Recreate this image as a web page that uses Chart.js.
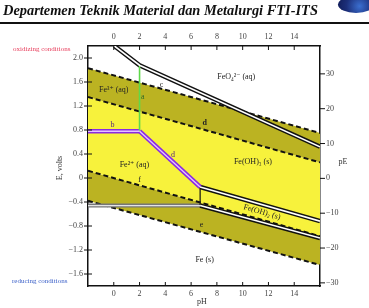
<!DOCTYPE html>
<html>
<head>
<meta charset="utf-8">
<script src="https://cdn.jsdelivr.net/npm/chart.js@4.4.0/dist/chart.umd.min.js"></script>
<style>
  html, body { margin: 0; padding: 0; background: #fff; }
  #wrap { position: relative; width: 369px; height: 308px; overflow: hidden; }
  #head { position: absolute; left: 3px; top: 2px; font: italic bold 14.4px "Liberation Serif", serif; white-space: nowrap; color: #111; }
  #rule { position: absolute; left: 0; top: 22px; width: 369px; height: 2px; background: #111; }
  #logo { position: absolute; left: 338px; top: -4px; width: 36px; height: 17px; border-radius: 50%;
          background: radial-gradient(circle at 60% 60%, #3b6fd0 0%, #1c2f7a 55%, #101b55 100%); }
  canvas { position: absolute; left: 0; top: 0; }
</style>
</head>
<body>
<div id="wrap">
  <canvas id="pourbaix" width="369" height="308"></canvas>
  <div id="head">Departemen Teknik Material dan Metalurgi FTI-ITS</div>
  <div id="rule"></div>
  <div id="logo"></div>
</div>
<script>
// water stability bands (E in volts at pH -2 and 16)
const bandPh = [-2, 16];
const upperBandTop = [1.83, 0.75];
const o2Line = [1.35, 0.26];
const h2Line = [0.12, -0.97];
const lowerBandBottom = [-0.38, -1.45];

// phase boundaries
const cPh = [0.05, 2, 16],  cE = [2.2, 1.88, 0.52];   // FeO4 2- / Fe3+, Fe(OH)3
const aPh = [2, 2],         aE = [1.88, 0.78];        // Fe3+ / Fe(OH)3
const bPh = [-2, 2],        bE = [0.78, 0.78];        // Fe3+ / Fe2+
const dPh = [2, 6.7],       dE = [0.78, -0.15];       // Fe(OH)3 / Fe2+
const ohPh = [6.7, 16];
const oh3E = [-0.15, -0.72];                          // Fe(OH)3 / Fe(OH)2
const oh2E = [-0.46, -1.0];                           // Fe(OH)2 / Fe
const stepPh = [6.7, 6.7],  stepE = [-0.15, -0.46];   // Fe2+ / Fe(OH)2
const fePh = [-2, 6.7],     feE = [-0.46, -0.46];     // Fe2+ / Fe

const phTicks = [0, 2, 4, 6, 8, 10, 12, 14];
const eTicks = [-1.6, -1.2, -0.8, -0.4, 0, 0.4, 0.8, 1.2, 1.6, 2.0];
const peTicks = [-30, -20, -10, 0, 10, 20, 30];

const regionLabels = [
  { t: 'FeO₄²⁻ (aq)', x: 9.5, y: 1.68 },
  { t: 'Fe³⁺ (aq)', x: 0.0, y: 1.47 },
  { t: 'c', x: 3.7, y: 1.55 },
  { t: 'a', x: 2.25, y: 1.35, c: '#2f6a2a' },
  { t: 'b', x: -0.1, y: 0.88, c: '#5a2a7a' },
  { t: 'd', x: 7.05, y: 0.92, bold: true },
  { t: 'd', x: 4.6, y: 0.38, c: '#5a2a7a' },
  { t: 'Fe²⁺ (aq)', x: 1.6, y: 0.22 },
  { t: 'f', x: 2.0, y: -0.03 },
  { t: 'Fe(OH)₃ (s)', x: 10.8, y: 0.27 },
  { t: 'Fe(OH)₂ (s)', x: 11.5, y: -0.57, rot: 0.28 },
  { t: 'e', x: 6.8, y: -0.78 },
  { t: 'Fe (s)', x: 7.05, y: -1.37 }
];

const YELLOW = '#f7f23c';
const OLIVE = '#bbb322';
const SERIF = '"Liberation Serif", "DejaVu Serif", serif';

const pts = (xs, ys) => xs.map((x, i) => ({ x: x, y: ys[i] }));

function band(xs, ys, fill, color) {
  return {
    data: pts(xs, ys), fill: fill, backgroundColor: color,
    borderColor: '#111', borderWidth: 2, borderDash: [5, 3],
    pointRadius: 0, order: 10
  };
}
function doubleLine(xs, ys, outer, inner, ow, iw) {
  return [
    { data: pts(xs, ys), borderColor: outer, borderWidth: ow, pointRadius: 0, fill: false, order: 5 },
    { data: pts(xs, ys), borderColor: inner, borderWidth: iw, pointRadius: 0, fill: false, order: 1 }
  ];
}
function single(xs, ys, color, w) {
  return { data: pts(xs, ys), borderColor: color, borderWidth: w, pointRadius: 0, fill: false, order: 3 };
}

const datasets = [
  band(bandPh, upperBandTop, '+1', OLIVE),
  band(bandPh, o2Line, '+1', YELLOW),
  band(bandPh, h2Line, '+1', OLIVE),
  band(bandPh, lowerBandBottom, false, 'transparent'),
  ...doubleLine(cPh, cE, '#111', '#fff', 4.5, 1.6),
  single(aPh, aE, '#5fd94a', 1.6),
  ...doubleLine(bPh, bE, '#8a2be2', '#e6c4ff', 4.5, 1.4),
  ...doubleLine(dPh, dE, '#8a2be2', '#e6c4ff', 4.5, 1.4),
  ...doubleLine(ohPh, oh3E, '#111', '#fff', 4.5, 1.6),
  ...doubleLine(ohPh, oh2E, '#111', '#fff', 4.5, 1.6),
  ...doubleLine(fePh, feE, '#777', '#e4e4e4', 4, 1.4),
  single(stepPh, stepE, '#111', 1.2)
];

const tickFont = { family: SERIF, size: 8 };
function axis(pos, min, max, vals, fmt, size, pad) {
  const horiz = pos === 'top' || pos === 'bottom';
  return {
    type: 'linear', position: pos, min: min, max: max,
    afterBuildTicks: s => { s.ticks = vals.map(v => ({ value: v })); },
    afterFit: s => { if (horiz) s.height = size; else s.width = size; },
    ticks: { font: tickFont, color: '#444', padding: pad, maxRotation: 0, autoSkip: false, callback: fmt },
    grid: { drawOnChartArea: false, drawTicks: false },
    border: { color: '#111', width: 1.5 }
  };
}
const minus = v => String(v).replace('-', '−');

const decor = {
  id: 'decor',
  afterDraw(chart) {
    const ctx = chart.ctx, ca = chart.chartArea, sc = chart.scales;
    ctx.save();
    ctx.strokeStyle = '#111';
    ctx.lineWidth = 1;
    ctx.beginPath();
    phTicks.forEach(v => {
      const px = sc.x.getPixelForValue(v);
      ctx.moveTo(px, ca.bottom); ctx.lineTo(px, ca.bottom - 4);
      ctx.moveTo(px, ca.top); ctx.lineTo(px, ca.top + 4);
    });
    eTicks.forEach(v => {
      const py = sc.y.getPixelForValue(v);
      ctx.moveTo(ca.left - 4, py); ctx.lineTo(ca.left + 4, py);
    });
    peTicks.forEach(v => {
      const py = sc.y2.getPixelForValue(v);
      ctx.moveTo(ca.right, py); ctx.lineTo(ca.right + 5, py);
    });
    ctx.stroke();

    ctx.textAlign = 'center';
    ctx.textBaseline = 'middle';
    regionLabels.forEach(l => {
      ctx.save();
      ctx.translate(sc.x.getPixelForValue(l.x), sc.y.getPixelForValue(l.y));
      if (l.rot) ctx.rotate(l.rot);
      ctx.fillStyle = l.c || '#222';
      ctx.font = (l.bold ? 'bold ' : '') + '8px ' + SERIF;
      ctx.fillText(l.t, 0, 0);
      ctx.restore();
    });

    ctx.fillStyle = '#333';
    ctx.font = '8px ' + SERIF;
    ctx.fillText('pH', (ca.left + ca.right) / 2 - 2, 302);
    ctx.fillText('pE', 343, 162);
    ctx.save();
    ctx.translate(60, 168);
    ctx.rotate(-Math.PI / 2);
    ctx.fillText('E, volts', 0, 0);
    ctx.restore();

    ctx.textAlign = 'left';
    ctx.font = '7px ' + SERIF;
    ctx.fillStyle = '#e8405e';
    ctx.fillText('oxidizing conditions', 13, 49);
    ctx.fillStyle = '#3a5fc8';
    ctx.fillText('reducing conditions', 12, 281);
    ctx.restore();
  }
};

new Chart(document.getElementById('pourbaix'), {
  type: 'line',
  data: { datasets: datasets },
  options: {
    responsive: false,
    animation: false,
    layout: { padding: 0 },
    plugins: {
      legend: { display: false },
      tooltip: { enabled: false },
      filler: { drawTime: 'beforeDatasetsDraw' }
    },
    elements: { line: { tension: 0 } },
    scales: {
      x: axis('bottom', -2, 16, phTicks, v => v, 22, 3),
      x2: axis('top', -2, 16, phTicks, v => v, 46, 4),
      y: axis('left', -1.8, 2.2, eTicks, v => (v === 0 ? '0' : minus(v.toFixed(1))), 88, 5),
      y2: axis('right', -30.9, 38, peTicks, v => minus(v), 49, 6)
    }
  },
  plugins: [decor]
});
</script>
</body>
</html>
